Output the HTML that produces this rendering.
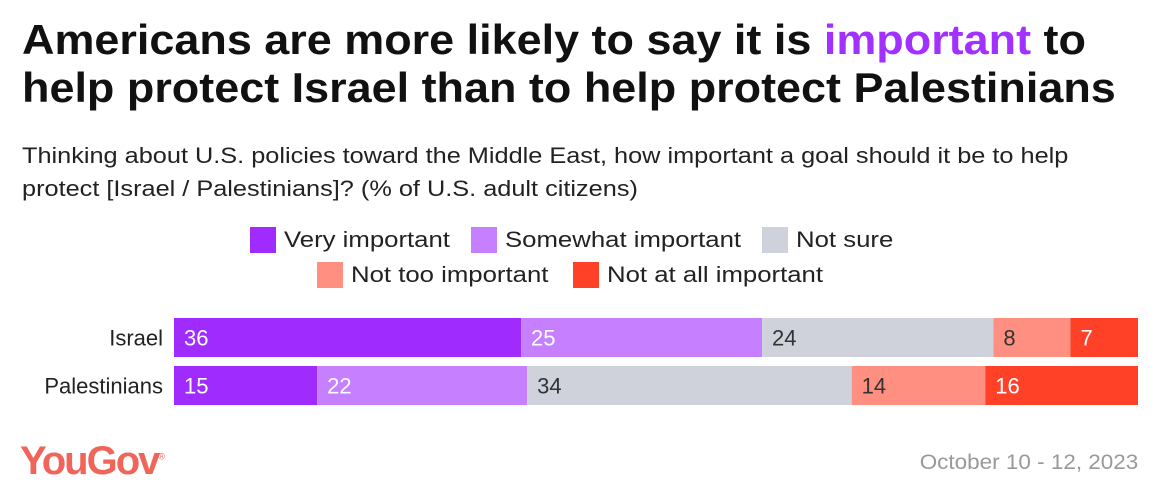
<!DOCTYPE html>
<html><head><meta charset="utf-8"><style>
body{margin:0;width:1160px;height:502px;background:#fff;font-family:"Liberation Sans",sans-serif;position:relative;overflow:hidden}
h1{position:absolute;left:22px;top:16px;margin:0;font-size:42px;line-height:48px;font-weight:bold;color:#111;letter-spacing:0;transform:scaleX(1.07);transform-origin:0 0;white-space:nowrap}
.sub{position:absolute;left:22px;top:139px;font-size:22px;line-height:33px;color:#222;transform:scaleX(1.15);transform-origin:0 0;white-space:nowrap}
.leg{position:absolute;font-size:22px;color:#222;display:flex;align-items:center;white-space:nowrap}
.leg span.sw{width:26px;height:26px;display:inline-block;margin-right:8px}
.leg span.t{display:inline-block;transform:scaleX(1.17);transform-origin:0 50%}
</style></head><body>
<h1>Americans are more likely to say it is <span style="color:#a230ff">important</span> to<br>help protect Israel than to help protect Palestinians</h1>
<div class="sub">Thinking about U.S. policies toward the Middle East, how important a goal should it be to help<br>protect [Israel / Palestinians]? (% of U.S. adult citizens)</div>
<div class="leg" style="left:250px;top:227px"><span class="sw" style="background:#a02bff"></span><span class="t">Very important</span></div>
<div class="leg" style="left:471px;top:227px"><span class="sw" style="background:#c57fff"></span><span class="t">Somewhat important</span></div>
<div class="leg" style="left:762px;top:227px"><span class="sw" style="background:#cfd2db"></span><span class="t">Not sure</span></div>
<div class="leg" style="left:317px;top:262px"><span class="sw" style="background:#ff8f80"></span><span class="t">Not too important</span></div>
<div class="leg" style="left:573px;top:262px"><span class="sw" style="background:#ff4127"></span><span class="t">Not at all important</span></div>
<svg id="chart" width="1160" height="502" style="position:absolute;left:0;top:0"></svg>
<div style="position:absolute;left:20px;top:439px;font-size:40px;font-weight:bold;color:#f0655a;letter-spacing:-2px">YouGov<sup style="font-size:9px;font-weight:normal">®</sup></div>
<div style="position:absolute;right:22px;top:451px;font-size:21px;color:#999;transform:scaleX(1.07);transform-origin:100% 0">October 10 - 12, 2023</div>
<script>
const categories=["Israel","Palestinians"];
const seriesNames=["Very important","Somewhat important","Not sure","Not too important","Not at all important"];
const israelValues=[36,25,24,8,7];
const palestiniansValues=[15,22,34,14,16];
const colors=["#a02bff","#c57fff","#cfd2db","#ff8f80","#ff4127"];
const textColors=["#fff","#fff","#333","#333","#fff"];
const rows=[israelValues,palestiniansValues];
const ns="http://www.w3.org/2000/svg";
const svg=document.getElementById('chart');
const x0=174,x1=1138,rowTop=318,rowStep=48,barH=39;
rows.forEach((vals,r)=>{
  const total=vals.reduce((a,b)=>a+b,0);
  const xs=v=>(v/total)*(x1-x0);
  const y=rowTop+r*rowStep;
  const lab=document.createElementNS(ns,'text');
  
  
  lab.setAttribute('x',163);lab.setAttribute('y',y+barH/2+8);
  lab.setAttribute('text-anchor','end');lab.setAttribute('font-size','22');lab.setAttribute('fill','#222');
  lab.setAttribute('font-family','Liberation Sans, sans-serif');
  lab.textContent=categories[r];svg.appendChild(lab);
  let cx=x0;
  vals.forEach((v,i)=>{
    const w=xs(v);
    const rect=document.createElementNS(ns,'rect');
    
    
    rect.setAttribute('x',cx);rect.setAttribute('y',y);rect.setAttribute('width',w);rect.setAttribute('height',barH);
    rect.setAttribute('fill',colors[i]);svg.appendChild(rect);
    const t=document.createElementNS(ns,'text');
    
    
    t.setAttribute('x',cx+10);t.setAttribute('y',y+barH/2+8);
    t.setAttribute('font-size','22');t.setAttribute('fill',textColors[i]);
    t.setAttribute('font-family','Liberation Sans, sans-serif');
    t.textContent=v;svg.appendChild(t);
    cx+=w;
  });
});
</script>
</body></html>
